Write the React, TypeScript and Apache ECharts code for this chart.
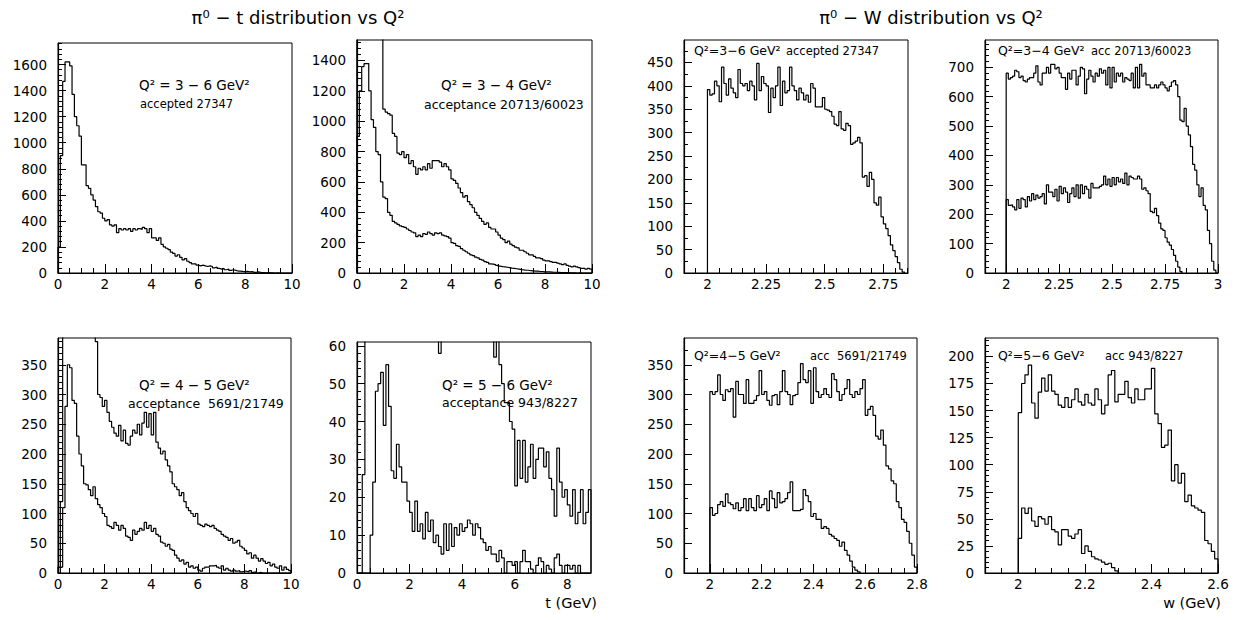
import React, { useEffect, useRef } from "react";
import * as echarts from "echarts";

// ---------- t histograms: 0.1 GeV bins starting at t = 0 ----------
const T_START = 0;
const T_BIN_WIDTH = 0.1;

const tQ36Accepted = [
  200, 900, 1470, 1620, 1620, 1590, 1370, 1200, 1130, 1050,
  830, 830, 670, 650, 600, 560, 510, 470, 460, 420,
  400, 410, 370, 360, 370, 310, 340, 330, 340, 330,
  340, 320, 340, 330, 340, 335, 350, 340, 310, 340,
  270, 270, 250, 270, 220, 200, 190, 180, 160, 150,
  130, 140, 120, 100, 110, 90, 80, 70, 70, 60,
  55, 60, 55, 50, 55, 50, 40, 45, 35, 30,
  35, 25, 30, 20, 25, 20, 15, 15, 12, 10,
  12, 8, 10, 5, 6, 8, 3, 4, 2, 3,
  2, 1, 0, 1, 0, 0, 0, 0, 0, 0,
];

const tQ34Generated = [
  1800, 2600, 3200, 3300, 3200, 3000, 2700, 2400, 2100, 1900,
  1700, 1080, 1060, 1050, 1040, 920, 900, 790, 780, 800,
  760, 780, 720, 740, 700, 650, 690, 680, 700, 680,
  720, 690, 740, 740, 740, 730, 700, 720, 700, 680,
  620, 610, 590, 560, 530, 500, 510, 470, 450, 430,
  400, 380, 360, 340, 320, 330, 300, 290, 290, 270,
  250, 230, 220, 200, 210, 190, 180, 170, 165, 150,
  150, 140, 130, 120, 120, 110, 100, 100, 95, 85,
  80, 80, 75, 70, 70, 65, 60, 55, 60, 50,
  45, 40, 45, 40, 35, 30, 30, 25, 30, 25,
];

const tQ34Accepted = [
  900, 1200, 1360, 1380, 1380, 1200, 1010, 960, 800, 780,
  600, 500, 490, 400, 380, 340, 330, 320, 310, 305,
  300, 290, 280, 270, 265, 240, 250, 240, 260, 255,
  270, 260, 250, 265, 260, 265, 250, 245, 240, 230,
  200, 195, 180, 175, 160, 150, 140, 130, 120, 115,
  105, 100, 90, 85, 75, 70, 60, 58, 55, 50,
  45, 42, 40, 38, 35, 32, 30, 28, 25, 22,
  20, 18, 18, 15, 14, 12, 12, 10, 10, 8,
  8, 7, 6, 5, 5, 4, 3, 3, 2, 2,
  1, 1, 1, 0, 1, 0, 0, 0, 0, 0,
];

const tQ45Generated = [
  10, 120, 700, 1000, 1100, 1100, 1000, 900, 800, 700,
  650, 600, 550, 500, 460, 430, 389, 300, 295, 280,
  290, 270, 255, 245, 235, 230, 248, 222, 240, 218,
  215, 230, 240, 235, 250, 232, 252, 270, 245, 268,
  232, 270, 220, 210, 200, 205, 190, 180, 170, 150,
  145, 140, 130, 135, 120, 110, 105, 100, 95, 100,
  82, 80, 78, 82, 80, 78, 80, 75, 72, 70,
  65, 62, 60, 55, 58, 50, 52, 55, 45, 42,
  38, 32, 34, 25, 30, 25, 20, 24, 20, 16,
  18, 12, 15, 10, 8, 12, 5, 10, 6, 4,
];

const tQ45Accepted = [
  0, 10, 110, 280, 350, 345, 290, 285, 230, 200,
  180, 150, 148, 140, 130, 145, 125, 115, 110, 100,
  95, 80, 78, 75, 85, 80, 72, 80, 75, 62,
  60, 55, 72, 65, 70, 75, 72, 85, 75, 80,
  70, 75, 65, 62, 52, 50, 45, 48, 40, 38,
  30, 25, 20, 22, 15, 18, 10, 12, 8, 10,
  5, 3, 8, 10, 10, 12, 12, 13, 10, 8,
  12, 5, 8, 5, 3, 5, 3, 4, 2, 3,
  3, 2, 4, 1, 2, 0, 1, 0, 0, 0,
  0, 0, 0, 0, 0, 0, 0, 0, 0, 0,
];

const tQ56Generated = [
  0, 0, 26, 100, 300, 450, 500, 520, 500, 470,
  430, 400, 370, 330, 300, 270, 250, 230, 210, 190,
  170, 160, 150, 140, 130, 120, 115, 110, 105, 100,
  90, 58, 85, 88, 90, 92, 95, 95, 98, 100,
  100, 98, 95, 92, 88, 85, 80, 76, 72, 70,
  67, 64, 57, 62, 55, 50, 45, 45, 40, 38,
  23, 35, 25, 35, 24, 28, 34, 25, 30, 33,
  33, 28, 32, 25, 22, 15, 33, 24, 20, 22,
  18, 15, 22, 13, 16, 22, 13, 16, 22,
];

const tQ56Accepted = [
  0, 0, 0, 0, 0, 10, 24, 48, 50, 53,
  39, 55, 44, 27, 25, 34, 28, 24, 24, 19,
  16, 11, 19, 11, 13, 9, 16, 11, 14, 8,
  10, 7, 5, 13, 6, 13, 7, 12, 10, 13,
  11, 12, 14, 13, 10, 13, 12, 9, 8, 6,
  7, 5, 5, 3, 6, 4, 0, 3, 3, 2,
  3, 0, 3, 6, 3, 3, 1, 0, 2, 4,
  3, 0, 2, 1, 0, 4, 5, 2, 0, 2,
  2, 1, 2, 0, 2, 0, 0, 0, 0,
];

// ---------- W histograms: 0.01 GeV bins starting at W = 2.0 ----------
const W_START = 2.0;
const W_BIN_WIDTH = 0.01;

const wQ36Accepted = [
  392, 380, 383, 410, 400, 366, 440, 405, 380, 415,
  395, 385, 375, 435, 405, 400, 405, 390, 410, 400,
  370, 448, 390, 420, 405, 400, 343, 395, 375, 400,
  440, 358, 410, 385, 390, 440, 400, 390, 370, 395,
  385, 370, 380, 365, 405, 395, 355, 355, 355, 375,
  350, 348, 345, 335, 318, 315, 345, 308, 305, 320,
  315, 275, 278, 282, 290, 278, 205, 208, 185, 215,
  200, 150, 145, 162, 120, 105, 95, 80, 60, 48,
  35, 22, 8, 2,
];

const wQ34Generated = [
  680, 660, 665, 670, 690, 685, 665, 670, 655, 650,
  660, 665, 665, 680, 705, 650, 640, 680, 680, 700,
  680, 710, 710, 695, 700, 680, 665, 665, 625, 680,
  660, 690, 690, 640, 670, 700, 695, 610, 660, 690,
  670, 650, 680, 670, 695, 680, 690, 640, 700, 630,
  700, 650, 680, 670, 680, 650, 665, 660, 655, 680,
  630, 700, 630, 710, 670, 680, 640, 640, 630, 630,
  640, 630, 640, 650, 640, 630, 620, 635, 650, 655,
  640, 600, 520, 515, 560, 500, 470, 430, 370, 350,
  300, 260, 290, 230, 215, 145, 100, 40, 10, 0,
];

const wQ34Accepted = [
  250, 230, 232, 225, 215, 250, 220, 255, 250, 225,
  260, 245, 270, 250, 265, 255, 260, 270, 235, 300,
  275, 275, 260, 285, 245, 295, 270, 290, 275, 240,
  270, 290, 260, 300, 255, 300, 270, 295, 285, 255,
  305, 290, 290, 290, 295, 300, 330, 300, 320, 295,
  325, 300, 325, 310, 320, 305, 340, 300, 330, 325,
  320, 320, 330, 320, 285, 290, 280, 270, 210, 205,
  220, 195, 170, 150, 145, 120, 105, 95, 80, 60,
  40, 20, 5,
];

const wQ45Generated = [
  305, 300, 305, 333, 300, 290, 308, 305, 310, 262,
  322, 300, 300, 285, 325, 285, 285, 290, 298, 340,
  300, 305, 290, 282, 298, 300, 283, 305, 340, 305,
  300, 283, 298, 300, 320, 352, 325, 320, 340, 285,
  345, 305, 295, 300, 310, 300, 295, 335, 325, 305,
  290, 300, 310, 325, 300, 295, 305, 300, 310, 325,
  265, 275, 280, 265, 230, 225, 240, 215, 180, 175,
  155, 150, 120, 110, 90, 85, 70, 50, 30, 10,
];

const wQ45Accepted = [
  110, 97, 100, 115, 120, 112, 133, 118, 115, 108,
  118, 105, 110, 125, 105, 125, 110, 105, 130, 110,
  115, 125, 105, 138, 125, 110, 135, 118, 120, 125,
  135, 153, 105, 105, 105, 107, 140, 130, 120, 95,
  100, 90, 90, 75, 78, 75, 65, 62, 58, 55,
  45, 52, 38, 30, 20, 10, 5, 2,
];

const wQ56Generated = [
  148, 175, 183, 192, 157, 143, 167, 180, 168, 183,
  168, 165, 155, 153, 162, 153, 160, 170, 158, 155,
  165, 157, 155, 170, 160, 147, 155, 183, 187, 158,
  165, 165, 177, 162, 157, 170, 160, 160, 170, 170,
  189, 147, 138, 116, 118, 132, 85, 100, 83, 92,
  66, 72, 62, 60, 58, 56, 30, 27, 20, 13,
];

const wQ56Accepted = [
  32, 60, 55, 60, 48, 43, 52, 50, 45, 52,
  40, 38, 26, 40, 40, 34, 32, 36, 40, 18,
  25, 20, 15, 13, 12, 10, 8, 9, 5, 2,
];

// ---------- tick labels ----------
const tTickLabels = [0, 2, 4, 6, 8, 10];
const tTickLabelsQ56 = [0, 2, 4, 6, 8];
const wTickLabelsQ36 = [2, 2.25, 2.5, 2.75];
const wTickLabelsQ34 = [2, 2.25, 2.5, 2.75, 3];
const wTickLabelsQ45 = [2, 2.2, 2.4, 2.6, 2.8];
const wTickLabelsQ56 = [2, 2.2, 2.4, 2.6];

const yTicksTQ36 = [0, 200, 400, 600, 800, 1000, 1200, 1400, 1600];
const yTicksTQ34 = [0, 200, 400, 600, 800, 1000, 1200, 1400];
const yTicksTQ45 = [0, 50, 100, 150, 200, 250, 300, 350];
const yTicksTQ56 = [0, 10, 20, 30, 40, 50, 60];
const yTicksWQ36 = [0, 50, 100, 150, 200, 250, 300, 350, 400, 450];
const yTicksWQ34 = [0, 100, 200, 300, 400, 500, 600, 700];
const yTicksWQ45 = [0, 50, 100, 150, 200, 250, 300, 350];
const yTicksWQ56 = [0, 25, 50, 75, 100, 125, 150, 175, 200];

const FONT = "DejaVu Sans";

function stepTicks(min: number, max: number, step: number): number[] {
  const out: number[] = [];
  const k0 = Math.ceil(min / step - 1e-9);
  const k1 = Math.floor(max / step + 1e-9);
  for (let k = k0; k <= k1; k++) out.push(Math.round(k * step * 1e6) / 1e6);
  return out;
}

function histPoints(values: number[], start: number, width: number) {
  const pts: number[][] = [[start, 0]];
  values.forEach((v, i) => pts.push([Math.round((start + i * width) * 1e6) / 1e6, v]));
  pts.push([Math.round((start + values.length * width) * 1e6) / 1e6, 0]);
  return pts;
}

type Panel = {
  grid: { left: number; top: number; width: number; height: number };
  xMin: number; xMax: number; xMajor: number[]; xMinorStep: number;
  yMax: number; yMajor: number[]; yMinorStep: number;
  hists: number[][]; start: number; binWidth: number;
};

const panels: Panel[] = [
  { grid: { left: 58, top: 43, width: 234, height: 230 }, xMin: 0, xMax: 10, xMajor: tTickLabels, xMinorStep: 0.5,
    yMax: 1765, yMajor: yTicksTQ36, yMinorStep: 40, hists: [tQ36Accepted], start: T_START, binWidth: T_BIN_WIDTH },
  { grid: { left: 357, top: 40, width: 235, height: 233 }, xMin: 0, xMax: 10, xMajor: tTickLabels, xMinorStep: 0.5,
    yMax: 1535, yMajor: yTicksTQ34, yMinorStep: 40, hists: [tQ34Generated, tQ34Accepted], start: T_START, binWidth: T_BIN_WIDTH },
  { grid: { left: 684, top: 40, width: 224, height: 233 }, xMin: 1.9, xMax: 2.855, xMajor: wTickLabelsQ36, xMinorStep: 0.05,
    yMax: 498, yMajor: yTicksWQ36, yMinorStep: 25, hists: [wQ36Accepted], start: W_START, binWidth: W_BIN_WIDTH },
  { grid: { left: 985, top: 40, width: 233, height: 233 }, xMin: 1.9, xMax: 3.0, xMajor: wTickLabelsQ34, xMinorStep: 0.05,
    yMax: 793, yMajor: yTicksWQ34, yMinorStep: 20, hists: [wQ34Generated, wQ34Accepted], start: W_START, binWidth: W_BIN_WIDTH },
  { grid: { left: 58, top: 338, width: 233, height: 235 }, xMin: 0, xMax: 10, xMajor: tTickLabels, xMinorStep: 0.5,
    yMax: 395, yMajor: yTicksTQ45, yMinorStep: 10, hists: [tQ45Generated, tQ45Accepted], start: T_START, binWidth: T_BIN_WIDTH },
  { grid: { left: 357, top: 342, width: 234, height: 231 }, xMin: 0, xMax: 8.9, xMajor: tTickLabelsQ56, xMinorStep: 0.5,
    yMax: 61, yMajor: yTicksTQ56, yMinorStep: 2, hists: [tQ56Generated, tQ56Accepted], start: T_START, binWidth: T_BIN_WIDTH },
  { grid: { left: 684, top: 338, width: 233, height: 235 }, xMin: 1.9, xMax: 2.8, xMajor: wTickLabelsQ45, xMinorStep: 0.05,
    yMax: 395, yMajor: yTicksWQ45, yMinorStep: 25, hists: [wQ45Generated, wQ45Accepted], start: W_START, binWidth: W_BIN_WIDTH },
  { grid: { left: 985, top: 338, width: 233, height: 235 }, xMin: 1.9, xMax: 2.6, xMajor: wTickLabelsQ56, xMinorStep: 0.05,
    yMax: 217, yMajor: yTicksWQ56, yMinorStep: 5, hists: [wQ56Generated, wQ56Accepted], start: W_START, binWidth: W_BIN_WIDTH },
];

const fmt = (v: number) => String(Math.round(v * 100) / 100);

function buildOption() {
  const grid: any[] = [];
  const xAxis: any[] = [];
  const yAxis: any[] = [];
  const series: any[] = [];
  const labelStyle = { color: "#000", fontFamily: FONT, fontSize: 13.5 };

  panels.forEach((p, i) => {
    grid.push({
      ...p.grid,
      show: true,
      borderColor: "#000",
      borderWidth: 1,
      backgroundColor: "transparent",
      containLabel: false,
      outerBoundsMode: "none",
    });
    const xMinor = stepTicks(p.xMin, p.xMax, p.xMinorStep).filter((v) => !p.xMajor.some((m) => Math.abs(m - v) < 1e-6));
    const yMinor = stepTicks(0, p.yMax, p.yMinorStep).filter((v) => !p.yMajor.some((m) => Math.abs(m - v) < 1e-6));
    xAxis.push({
      type: "value", gridIndex: i, min: p.xMin, max: p.xMax, position: "bottom",
      axisLine: { show: true, onZero: false, lineStyle: { color: "#000", width: 1.2 } },
      axisTick: { show: true, inside: true, length: 9, customValues: p.xMajor, lineStyle: { color: "#000" } },
      axisLabel: { show: true, customValues: p.xMajor, formatter: fmt, margin: 4, ...labelStyle },
      splitLine: { show: false },
    });
    xAxis.push({
      type: "value", gridIndex: i, min: p.xMin, max: p.xMax, position: "bottom",
      axisLine: { show: false },
      axisTick: { show: true, inside: true, length: 5, customValues: xMinor, lineStyle: { color: "#000" } },
      axisLabel: { show: false },
      splitLine: { show: false },
    });
    yAxis.push({
      type: "value", gridIndex: i, min: 0, max: p.yMax, position: "left",
      axisLine: { show: true, onZero: false, lineStyle: { color: "#000", width: 1.2 } },
      axisTick: { show: true, inside: true, length: 8, customValues: p.yMajor, lineStyle: { color: "#000" } },
      axisLabel: { show: true, customValues: p.yMajor, formatter: fmt, margin: 11, ...labelStyle },
      splitLine: { show: false },
    });
    yAxis.push({
      type: "value", gridIndex: i, min: 0, max: p.yMax, position: "left",
      axisLine: { show: false },
      axisTick: { show: true, inside: true, length: 4, customValues: yMinor, lineStyle: { color: "#000" } },
      axisLabel: { show: false },
      splitLine: { show: false },
    });
    p.hists.forEach((h) => {
      series.push({
        type: "line",
        xAxisIndex: 2 * i,
        yAxisIndex: 2 * i,
        data: histPoints(h, p.start, p.binWidth),
        step: "end",
        symbol: "none",
        silent: true,
        clip: true,
        lineStyle: { color: "#000", width: 1.2 },
      });
    });
  });

  const txt = (text: string, x: number, y: number, size: number, align = "left") => ({
    type: "text",
    x,
    y,
    silent: true,
    style: { text, fontSize: size, fontFamily: FONT, fill: "#000", textAlign: align, textVerticalAlign: "middle" },
  });

  const graphic = [
    txt("π⁰ − t distribution vs Q²", 298, 17, 18, "center"),
    txt("π⁰ − W distribution vs Q²", 931, 17, 18, "center"),
    txt("Q² = 3 − 6 GeV²", 139, 85, 13.5),
    txt("accepted 27347", 140, 104, 11.5),
    txt("Q² = 3 − 4 GeV²", 441, 85, 13.5),
    txt("acceptance 20713/60023", 424, 104, 12.5),
    txt("Q²=3−6 GeV²", 694, 50, 12.5),
    txt("accepted 27347", 786, 51, 11.5),
    txt("Q²=3−4 GeV²", 998, 50, 12.5),
    txt("acc 20713/60023", 1091, 51, 11.5),
    txt("Q² = 4 − 5 GeV²", 139, 385, 13.5),
    txt("acceptance  5691/21749", 128, 403, 12.5),
    txt("Q² = 5 − 6 GeV²", 442, 385, 13.5),
    txt("acceptance 943/8227", 442, 402, 12.5),
    txt("Q²=4−5 GeV²", 694, 355, 12.5),
    txt("acc  5691/21749", 810, 356, 11.5),
    txt("Q²=5−6 GeV²", 998, 355, 12.5),
    txt("acc 943/8227", 1105, 356, 11.5),
    txt("t (GeV)", 597, 603, 14.5, "right"),
    txt("w (GeV)", 1221, 603, 14.5, "right"),
  ];

  return {
    animation: false,
    backgroundColor: "#fff",
    grid,
    xAxis,
    yAxis,
    series,
    graphic,
  };
}

export default function App() {
  const ref = useRef<HTMLDivElement | null>(null);
  useEffect(() => {
    if (!ref.current) return;
    const chart = echarts.init(ref.current, undefined, { renderer: "svg" });
    chart.setOption(buildOption() as any);
    return () => chart.dispose();
  }, []);
  return (
    <div
      ref={ref}
      style={{ position: "absolute", left: 0, top: 0, width: 1234, height: 620, background: "#fff" }}
    />
  );
}
